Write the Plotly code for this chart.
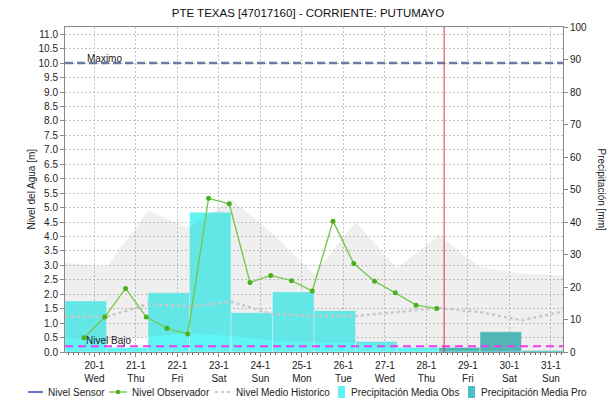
import pandas as pd
import plotly.graph_objects as go

TITLE = "PTE TEXAS [47017160] - CORRIENTE: PUTUMAYO"

# Historic daily statistics (07:00 of each day), metres
hist_times = pd.date_range("2016-01-19 07:00", "2016-01-31 07:00", freq="D")
hist_max = [3.10, 2.95, 4.89, 4.28, 5.30, 4.10, 2.70, 4.50, 2.90, 4.05, 2.95, 2.72, 2.65]
hist_min = [0.50, 0.30, 0.52, 0.66, 0.55, 0.40, 0.35, 0.30, 0.15, 0.10, 0.05, 0.05, 0.05]
hist_mean = [1.22, 1.22, 1.66, 1.57, 1.74, 1.31, 1.25, 1.25, 1.38, 1.52, 1.38, 1.10, 1.40]

# Observer readings (06:00 and 18:00), metres
obs_times = pd.date_range("2016-01-19 18:00", periods=18, freq="12h")
obs_level = [0.49, 1.21, 2.20, 1.21, 0.82, 0.62, 5.32, 5.13, 2.41, 2.65,
             2.47, 2.11, 4.53, 3.06, 2.45, 2.05, 1.62, 1.51]

# Sensor series (no data transmitted in this period)
sensor_times = []
sensor_level = []

# Daily precipitation (07:00 to 07:00), mm
precip_obs_start = pd.date_range("2016-01-19 07:00", periods=9, freq="D")
precip_obs = [15.7, 1.4, 18.2, 43.0, 12.1, 18.5, 12.7, 3.2, 1.4]
precip_pro_start = pd.date_range("2016-01-28 07:00", periods=3, freq="D")
precip_pro = [1.4, 6.2, 0.5]

LEVEL_MAX = 10.0
LEVEL_LOW = 0.2
NOW = "2016-01-28 10:15"
X_RANGE = ["2016-01-19 07:00", "2016-01-31 07:00"]

DAY_MS = 86400000
GRID = "#c4c4c4"
AXIS = "#8a8a8a"
TXT = "#222222"
C_OBS_BAR = "#5ff5f5"
C_PRO_BAR = "#4bbfbf"
C_OBSERVER = "#78c850"
C_OBS_MARK = "#4cb01c"
C_SENSOR = "#2a3aa8"
C_MEAN = "#c8c8c8"
C_MAX = "#6b7aa1"
C_LOW = "#f03cf0"

# plot-area geometry in pixels, used for paper-coordinate helpers
L, R, T, B, W, H = 65, 53, 27, 52, 616, 404
PW, PH = W - L - R, H - T - B


def px(x):
    return (x - L) / PW


def py(y):
    return (H - B - y) / PH


fig = go.Figure()

fig.add_trace(go.Bar(x=precip_obs_start, y=precip_obs, width=DAY_MS, offset=0,
                     marker=dict(color=C_OBS_BAR, line=dict(width=0.6, color="rgba(255,255,255,0.7)")),
                     name="Precipitación Media Obs", yaxis="y"))
fig.add_trace(go.Bar(x=precip_pro_start, y=precip_pro, width=DAY_MS, offset=0,
                     marker=dict(color=C_PRO_BAR, line=dict(width=0.6, color="rgba(255,255,255,0.7)")),
                     name="Precipitación Media Pro", yaxis="y"))

fig.add_trace(go.Scatter(x=hist_times, y=hist_min, mode="lines", line=dict(width=0),
                         yaxis="y2", hoverinfo="skip"))
fig.add_trace(go.Scatter(x=hist_times, y=hist_max, mode="lines", line=dict(width=0),
                         fill="tonexty", fillcolor="rgba(120,120,120,0.12)",
                         yaxis="y2", hoverinfo="skip"))
fig.add_trace(go.Scatter(x=hist_times, y=hist_mean, mode="lines",
                         line=dict(color=C_MEAN, width=2.5, dash="dot"),
                         name="Nivel Medio Historico", yaxis="y2"))
fig.add_trace(go.Scatter(x=sensor_times, y=sensor_level, mode="lines",
                         line=dict(color=C_SENSOR, width=1.5),
                         name="Nivel Sensor", yaxis="y2"))
fig.add_trace(go.Scatter(x=obs_times, y=obs_level, mode="lines+markers",
                         line=dict(color=C_OBSERVER, width=1.4),
                         marker=dict(color=C_OBS_MARK, size=5),
                         name="Nivel Observador", yaxis="y2"))

shapes = [
    dict(type="line", xref="paper", x0=0, x1=1, yref="y2", y0=LEVEL_MAX, y1=LEVEL_MAX,
         line=dict(color=C_MAX, width=2.5, dash="8px,4px"), layer="above"),
    dict(type="line", xref="paper", x0=0, x1=1, yref="y2", y0=LEVEL_LOW, y1=LEVEL_LOW,
         line=dict(color=C_LOW, width=2, dash="8px,5px"), layer="above"),
    dict(type="line", xref="x", x0=NOW, x1=NOW, yref="paper", y0=0, y1=1,
         line=dict(color="#d9363e", width=1), layer="above"),
]

annotations = [
    dict(text="Maximo", xref="paper", x=px(85), yref="y2", y=LEVEL_MAX,
         xanchor="left", yanchor="bottom", yshift=-3, showarrow=False,
         font=dict(size=10, color=TXT)),
    dict(text="Nivel Bajo", xref="paper", x=px(84), yref="y2", y=LEVEL_LOW,
         xanchor="left", yanchor="bottom", yshift=-2, showarrow=False,
         font=dict(size=10, color=TXT)),
    dict(text="Nivel del Agua [m]", xref="paper", x=px(31), yref="paper", y=0.5,
         xanchor="center", yanchor="middle",
         textangle=-90, showarrow=False, font=dict(size=10, color=TXT)),
    dict(text="Precipitación [mm]", xref="paper", x=px(601), yref="paper", y=0.5,
         xanchor="center", yanchor="middle",
         textangle=90, showarrow=False, font=dict(size=10, color=TXT)),
]

# legend row below the plot
LY = 392
legend_items = [
    ("line", C_SENSOR, 28, 43, "Nivel Sensor", 46),
    ("marker", C_OBSERVER, 109, 127, "Nivel Observador", 130),
    ("dot", C_MEAN, 215, 230, "Nivel Medio Historico", 234),
    ("box", C_OBS_BAR, 338, 345, "Precipitación Media Obs", 349),
    ("box", C_PRO_BAR, 468, 475, "Precipitación Media Pro", 479),
]
for kind, color, x0, x1, label, tx in legend_items:
    if kind == "box":
        shapes.append(dict(type="rect", xref="paper", yref="paper",
                           x0=px(x0), x1=px(x1), y0=py(LY + 6), y1=py(LY - 6),
                           fillcolor=color, line=dict(width=0)))
    else:
        dash = "dot" if kind == "dot" else "solid"
        width = 2 if kind == "dot" else 1.4
        shapes.append(dict(type="line", xref="paper", yref="paper",
                           x0=px(x0), x1=px(x1), y0=py(LY), y1=py(LY),
                           line=dict(color=color, width=width, dash=dash)))
        if kind == "marker":
            cx = (x0 + x1) / 2
            shapes.append(dict(type="circle", xref="paper", yref="paper",
                               x0=px(cx - 2.2), x1=px(cx + 2.2), y0=py(LY + 2.2), y1=py(LY - 2.2),
                               fillcolor=C_OBS_MARK, line=dict(width=0)))
    annotations.append(dict(text=label, xref="paper", x=px(tx), yref="paper", y=py(LY),
                            xanchor="left", yanchor="middle", showarrow=False,
                            font=dict(size=10, color=TXT)))

fig.update_layout(
    width=W, height=H,
    margin=dict(l=L, r=R, t=T, b=B),
    paper_bgcolor="white", plot_bgcolor="white",
    font=dict(family="Liberation Sans, Arial, sans-serif", size=10, color=TXT),
    title=dict(text=TITLE, x=0.5, xanchor="center", y=1 - 13 / H, yanchor="middle",
               font=dict(size=11.5, color="#111111")),
    showlegend=False,
    barmode="overlay",
    hovermode=False,
    shapes=shapes,
    annotations=annotations,
    xaxis=dict(type="date", range=X_RANGE, tick0="2016-01-20", dtick=DAY_MS,
               tickformat="%-d-%-m<br>%a", ticks="outside", ticklen=4, tickcolor=AXIS,
               showgrid=True, gridcolor=GRID, griddash="2px,2px", gridwidth=1,
               showline=True, linecolor=AXIS, mirror=True, zeroline=False,
               tickfont=dict(size=10, color=TXT),
               minor=dict(dtick=3 * 3600000, ticks="outside", ticklen=2,
                          tickcolor="#666666", showgrid=False)),
    yaxis=dict(side="right", range=[0, 100], dtick=10, ticks="outside", ticklen=4,
               tickcolor=AXIS, showgrid=False, showline=True, linecolor=AXIS,
               zeroline=False, tickfont=dict(size=10, color=TXT)),
    yaxis2=dict(side="left", overlaying="y", range=[0, 11.25], dtick=0.5, tickformat=".1f",
                ticks="outside", ticklen=4, tickcolor=AXIS,
                showgrid=True, gridcolor=GRID, griddash="2px,2px", gridwidth=1,
                showline=True, linecolor=AXIS, zeroline=False,
                tickfont=dict(size=10, color=TXT)),
)

fig.write_html("out.html")
